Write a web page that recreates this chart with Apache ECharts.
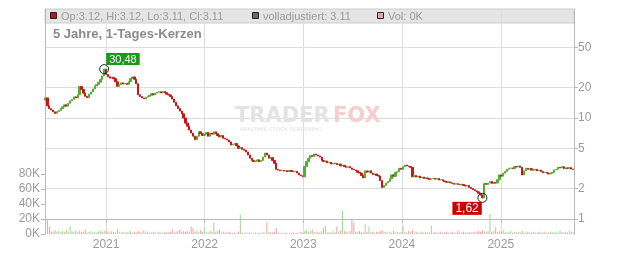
<!DOCTYPE html>
<html><head><meta charset="utf-8">
<script src="https://cdn.jsdelivr.net/npm/echarts@6/dist/echarts.min.js"></script>
<style>html,body{margin:0;padding:0;background:#fff}#c{width:632px;height:253px}</style>
</head><body><div id="c"></div>
<script>
// ---- data (weekly samples) ----
const startDate = '2020-05-22';
const stepDays = 7;
const firstOpen = 15.0;
const closes = [
 15.8, 13.2, 12.4, 12.0, 11.5, 11.1, 11.6, 11.9, 12.4, 12.9,
 13.5, 13.1, 14.0, 14.8, 15.3, 16.2, 15.8, 17.0, 20.5, 19.2,
 17.6, 16.4, 15.9, 17.2, 18.1, 19.4, 20.8, 21.5, 22.6, 24.0,
 26.1, 30.48, 27.0, 25.6, 24.8, 25.3, 24.5, 22.8, 20.6, 21.4,
 22.3, 21.7, 22.0, 21.5, 23.0, 24.6, 25.5, 24.2, 21.8, 17.0,
 16.3, 15.8, 15.5, 16.1, 16.4, 16.8, 17.4, 16.9, 17.6, 18.0,
 18.2, 17.7, 18.3, 17.8, 17.2, 16.9, 16.3, 15.4, 14.3, 13.2,
 12.4, 11.7, 11.0, 10.0, 8.9, 8.3, 7.6, 7.1, 6.6, 6.1,
 6.6, 7.3, 7.0, 6.7, 6.9, 7.2, 6.6, 7.1, 6.9, 7.3,
 7.0, 6.7, 6.5, 6.7, 6.3, 6.2, 6.05, 5.8, 5.4, 5.5,
 5.6, 5.3, 5.0, 5.1, 4.9, 4.8, 4.6, 4.3, 4.0, 3.8,
 3.7, 3.75, 3.85, 3.7, 3.8, 4.1, 4.5, 4.3, 4.0, 4.05,
 3.8, 3.56, 3.1, 3.05, 3.0, 3.02, 2.98, 3.0, 2.95, 3.02,
 2.96, 2.94, 2.97, 2.85, 2.73, 2.68, 2.62, 3.3, 3.7, 4.0,
 4.25, 4.15, 4.4, 4.3, 4.2, 4.1, 3.8, 3.7, 3.75, 3.6,
 3.65, 3.5, 3.56, 3.55, 3.45, 3.5, 3.35, 3.4, 3.3, 3.25,
 3.3, 3.2, 3.1, 3.06, 3.0, 2.9, 2.85, 2.7, 2.55, 3.0,
 2.9, 3.0, 2.85, 2.75, 2.79, 2.7, 2.66, 2.4, 2.05, 2.15,
 2.27, 2.35, 2.5, 2.73, 2.65, 2.9, 2.94, 3.18, 3.1, 3.3,
 3.42, 3.35, 3.3, 3.25, 2.62, 2.7, 2.6, 2.66, 2.55, 2.6,
 2.52, 2.55, 2.5, 2.47, 2.5, 2.53, 2.48, 2.52, 2.43, 2.45,
 2.38, 2.35, 2.31, 2.33, 2.28, 2.25, 2.21, 2.24, 2.2, 2.18,
 2.2, 2.15, 2.12, 2.15, 2.05, 2.0, 1.95, 1.9, 1.86, 1.8,
 1.73, 1.62, 2.25, 2.2, 2.27, 2.35, 2.25, 2.3, 2.27, 2.45,
 2.73, 2.65, 2.84, 2.95, 3.1, 3.18, 3.2, 3.15, 3.3, 3.28,
 3.35, 3.25, 2.73, 3.0, 3.18, 3.1, 3.15, 3.05, 3.06, 3.1,
 3.0, 3.05, 2.95, 2.87, 2.9, 2.85, 2.79, 2.85, 2.9, 3.06,
 3.1, 3.25, 3.2, 3.3, 3.15, 3.2, 3.18, 3.22, 3.12, 3.11
];
const volumesK = [
 52, 20, 10, 4, 3, 5, 3, 4, 2, 4,
 3, 5, 3, 11, 4, 3, 5, 3, 4, 3,
 3, 6, 2, 3, 4, 2, 3, 2, 3, 4,
 3, 4, 5, 3, 2, 4, 3, 2, 6, 3,
 2, 3, 2, 3, 2, 4, 2, 3, 2, 4,
 3, 2, 5, 2, 3, 2, 2, 3, 2, 2,
 3, 2, 2, 3, 2, 2, 3, 6, 2, 3,
 4, 6.5, 3, 4, 3, 4, 3, 10, 8, 3,
 4, 3, 5, 3, 8, 3, 2, 4, 3, 15.6,
 3, 4, 6, 2, 3, 2, 2, 3, 2, 2,
 2, 1, 3, 26, 2, 1, 2, 1, 2, 1,
 1, 2, 1, 2, 1, 3, 2, 15.6, 2, 3,
 2, 3, 8, 2, 1, 2, 1, 2, 1, 2,
 1, 2, 1, 2, 1, 3, 2, 4, 5, 3,
 4, 6, 3, 2, 3, 2, 4, 8, 11, 2,
 3, 2, 4, 2, 10, 3, 5, 31.5, 4, 3,
 2, 4, 20, 15, 3, 2, 4, 3, 2, 13,
 3, 10, 2, 3, 2, 3, 2, 4, 5, 3,
 3, 2, 3, 2, 4, 2, 3, 2, 3, 11,
 3, 2, 4, 2, 5, 2, 3, 2, 2, 3,
 2, 3, 2, 2, 11, 2, 3, 2, 2, 3,
 2, 2, 3, 2, 2, 3, 2, 2, 4, 2,
 2, 3, 2, 2, 3, 2, 2, 3, 2, 4,
 3, 5, 4, 3, 4, 27, 3, 4, 9, 3,
 4, 3, 5, 3, 2, 3, 4, 2, 3, 2,
 3, 2, 4, 2, 2, 3, 2, 2, 3, 2,
 2, 3, 2, 2, 3, 2, 2, 3, 2, 2,
 3, 2, 4, 3, 2, 3, 2, 4, 3, 2
];
const yearTicks = ['2021-01-01', '2022-01-01', '2023-01-01', '2024-01-01', '2025-01-01'];
const priceTicks = [1, 2, 5, 10, 20, 50];
const volumeTicksK = [0, 20, 40, 60, 80];
const legendTexts = ['Op:3.12, Hi:3.12, Lo:3.11, Cl:3.11', 'volladjustiert: 3.11', 'Vol: 0K'];
const titleText = '5 Jahre, 1-Tages-Kerzen';

// ---- build ----
const DAY = 86400000;
const ts = d => Date.parse(d + 'T00:00:00Z');
const t0 = ts(startDate);
const dates = closes.map((_, i) => t0 + i * stepDays * DAY);
const opens = closes.map((c, i) => i === 0 ? firstOpen : closes[i - 1]);
const L = Math.log10;
const candleData = closes.map((c, i) => {
  const o = opens[i];
  return [dates[i], L(o), L(c), L(Math.min(o, c)), L(Math.max(o, c))];
});
const UP = '#55ad32', DOWN = '#c81616';
const volData = volumesK.map((v, i) => ({
  value: [dates[i], v * 1000],
  itemStyle: { color: closes[i] >= opens[i] ? '#9fd795' : '#f19fa9' }
}));
let iMax = 0, iMin = 0;
closes.forEach((c, i) => {
  if (Math.max(c, opens[i]) > Math.max(closes[iMax], opens[iMax])) iMax = i;
  if (Math.min(c, opens[i]) < Math.min(closes[iMin], opens[iMin])) iMin = i;
});
const hiVal = Math.max(closes[iMax], opens[iMax]);
const loVal = Math.min(closes[iMin], opens[iMin]);
const fmt = v => v.toFixed(2).replace('.', ',');
const yearTs = yearTicks.map(ts);

const FONT = 'Liberation Sans, Arial, sans-serif';
const GRID = '#dddddd', AXIS = '#b8b8b8', LBL = '#9a9a9a';

const chart = echarts.init(document.getElementById('c'), null, { renderer: 'canvas' });
chart.setOption({
  animation: false,
  backgroundColor: '#ffffff',
  textStyle: { fontFamily: FONT },
  grid: { left: 45, right: 58, top: 9, bottom: 19, containLabel: false },
  xAxis: {
    type: 'value',
    min: ts('2020-05-20'), max: ts('2025-09-29'),
    axisLine: { show: true, lineStyle: { color: AXIS } },
    axisTick: { show: true, length: 4, lineStyle: { color: AXIS }, customValues: yearTs },
    axisLabel: { color: LBL, fontSize: 12, margin: 5, fontFamily: FONT,
      customValues: yearTs,
      formatter: v => String(new Date(v).getUTCFullYear()) },
    splitLine: { show: true, lineStyle: { color: GRID, width: 1 } }
  },
  yAxis: [
    {
      type: 'value', position: 'right',
      min: L(0.7104), max: L(120),
      axisLine: { show: true, lineStyle: { color: AXIS } },
      axisTick: { show: true, length: 4, lineStyle: { color: AXIS }, customValues: priceTicks.map(L) },
      axisLabel: { color: LBL, fontSize: 12, margin: 4, fontFamily: FONT,
        customValues: priceTicks.map(L), formatter: v => String(Math.round(Math.pow(10, v))) },
      splitLine: { show: true, lineStyle: { color: GRID, width: 1 } }
    },
    {
      type: 'value', position: 'left',
      min: 0, max: 300000,
      axisLine: { show: true, lineStyle: { color: AXIS } },
      axisTick: { show: true, length: 4, lineStyle: { color: AXIS }, customValues: volumeTicksK.map(v => v * 1000) },
      axisLabel: { color: LBL, fontSize: 12, margin: 5, fontFamily: FONT,
        customValues: volumeTicksK.map(v => v * 1000), formatter: v => (v / 1000) + 'K' },
      splitLine: { show: false }
    }
  ],
  graphic: [
    { type: 'rect', z: -1, shape: { x: 45, y: 9, width: 529, height: 14 }, style: { fill: '#e5e5e5', stroke: '#cccccc', lineWidth: 1 } },
    { type: 'rect', z: 10, shape: { x: 50.5, y: 12.5, width: 6, height: 6 }, style: { fill: '#b31b1b', stroke: '#222', lineWidth: 1 } },
    { type: 'text', z: 10, x: 61, y: 16.5, style: { text: legendTexts[0], fill: '#9a9a9a', font: '11px ' + FONT, verticalAlign: 'middle' } },
    { type: 'rect', z: 10, shape: { x: 252.5, y: 12.5, width: 6, height: 6 }, style: { fill: '#6a6a6a', stroke: '#222', lineWidth: 1 } },
    { type: 'text', z: 10, x: 263, y: 16.5, style: { text: legendTexts[1], fill: '#9a9a9a', font: '11px ' + FONT, verticalAlign: 'middle' } },
    { type: 'rect', z: 10, shape: { x: 377.5, y: 12.5, width: 6, height: 6 }, style: { fill: '#eba3ab', stroke: '#222', lineWidth: 1 } },
    { type: 'text', z: 10, x: 388, y: 16.5, style: { text: legendTexts[2], fill: '#9a9a9a', font: '11px ' + FONT, verticalAlign: 'middle' } },
    { type: 'text', z: 10, x: 53, y: 34, style: { text: titleText, fill: '#8a8a8a', font: 'bold 13px ' + FONT, verticalAlign: 'middle' } },
    { type: 'text', z: 1, x: 235, y: 117, style: { text: 'TRADER', fill: '#e3e3e3', font: 'bold 21px DejaVu Sans', verticalAlign: 'middle' } },
    { type: 'text', z: 1, x: 333, y: 117, style: { text: 'FOX', fill: '#f7cdcd', font: 'bold 21px DejaVu Sans', verticalAlign: 'middle' } },
    { type: 'text', z: 1, x: 240, y: 130, style: { text: 'REALTIME STOCK SCREENING', fill: '#e9e9e9', font: 'bold 5px DejaVu Sans', verticalAlign: 'middle' } }
  ],
  series: [
    {
      type: 'bar', name: 'Vol', xAxisIndex: 0, yAxisIndex: 1,
      data: volData, barWidth: 1, barGap: '0%', z: 2
    },
    {
      type: 'candlestick', name: 'Kurs', xAxisIndex: 0, yAxisIndex: 0,
      data: candleData,
      encode: { x: 0, y: [1, 2, 3, 4] },
      barWidth: 1.8,
      itemStyle: { color: UP, color0: DOWN, borderColor: UP, borderColor0: DOWN, borderWidth: 1 },
      z: 3,
      markPoint: {
        symbol: 'circle', symbolSize: 9,
        itemStyle: { color: 'rgba(0,0,0,0)', borderColor: '#222', borderWidth: 1 },
        data: [
          { coord: [dates[iMax], L(hiVal)], value: hiVal,
            label: { show: true, formatter: fmt(hiVal), color: '#fff', fontSize: 11, fontFamily: FONT,
              backgroundColor: '#179a17', padding: [1, 3, 0, 3], position: [7, -11], align: 'left', verticalAlign: 'top' } },
          { coord: [dates[iMin], L(loVal)], value: loVal,
            label: { show: true, formatter: fmt(loVal), color: '#fff', fontSize: 12, fontFamily: FONT,
              backgroundColor: '#cc0000', padding: [1, 3, 0, 3], position: [-25, 9], align: 'left', verticalAlign: 'top' } }
        ]
      }
    }
  ]
});
</script>
</body></html>
